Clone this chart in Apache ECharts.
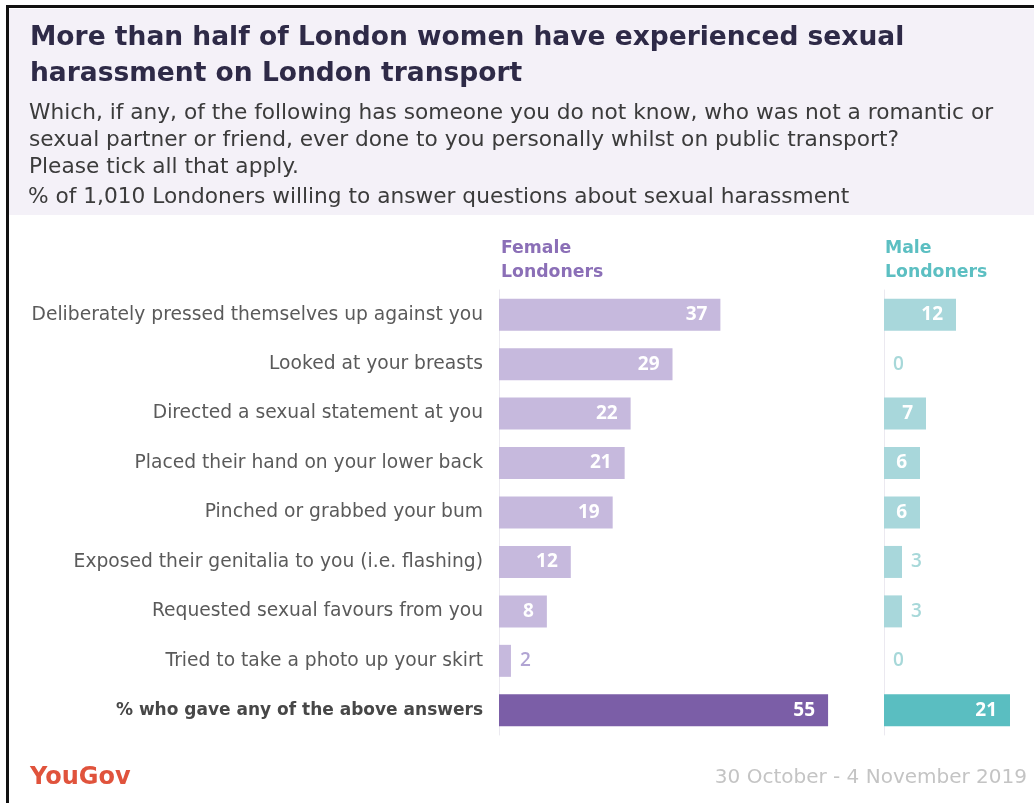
<!DOCTYPE html>
<html>
<head>
<meta charset="utf-8">
<script src="https://cdn.jsdelivr.net/npm/echarts@6/dist/echarts.min.js"></script>
<style>
  html, body { margin: 0; padding: 0; background: #ffffff; }
  #chart { width: 1034px; height: 803px; }
</style>
</head>
<body>
<div id="chart"></div>
<script>
// Survey answers (rows, top to bottom)
const categories = [
  'Deliberately pressed themselves up against you',
  'Looked at your breasts',
  'Directed a sexual statement at you',
  'Placed their hand on your lower back',
  'Pinched or grabbed your bum',
  'Exposed their genitalia to you (i.e. flashing)',
  'Requested sexual favours from you',
  'Tried to take a photo up your skirt',
  '% who gave any of the above answers'
];
// % of female / male Londoners
const femaleValues = [37, 29, 22, 21, 19, 12, 8, 2, 55];
const maleValues = [12, 0, 7, 6, 6, 3, 3, 0, 21];

const FONT = '"DejaVu Sans", "Noto Sans", sans-serif';
const NUM_FONT = '"Open Sans", "Noto Sans", sans-serif';
const totalIndex = categories.length - 1;

// Build bar items: small values carry their label outside the bar
function buildItems(values, light, dark, outsideColor) {
  return values.map((v, i) => {
    const isTotal = i === totalIndex;
    const inside = v >= 5;
    return {
      value: v,
      itemStyle: { color: isTotal ? dark : light },
      label: inside
        ? { position: 'insideRight', distance: 13, color: '#ffffff', fontWeight: 'bold' }
        : { position: 'right', distance: 9, color: outsideColor, fontWeight: 600 }
    };
  });
}

const femaleItems = buildItems(femaleValues, '#c6b9dd', '#7b5ea7', '#b1a4d3');
const maleItems = buildItems(maleValues, '#a8d7db', '#5abec1', '#a7d8d9');

const gridTop = 290;
const gridHeight = 445;

function yAxisFor(gridIndex, showLabels) {
  return {
    type: 'category',
    gridIndex: gridIndex,
    data: categories,
    inverse: true,
    axisTick: { show: false },
    axisLine: { show: true, lineStyle: { color: '#ebe9f0', width: 1 } },
    axisLabel: {
      show: showLabels,
      margin: 16,
      fontFamily: FONT,
      fontSize: 18.7,
      color: '#5a5a5a',
      formatter: function (val, idx) {
        return idx === totalIndex ? '{b|' + val + '}' : val;
      },
      rich: {
        b: { fontFamily: FONT, fontSize: 17, fontWeight: 'bold', color: '#474747' }
      }
    }
  };
}

function xAxisFor(gridIndex, max) {
  return {
    type: 'value',
    gridIndex: gridIndex,
    min: 0,
    max: max,
    show: false,
    splitLine: { show: false }
  };
}

const chart = echarts.init(document.getElementById('chart'), null, { renderer: 'canvas' });

const option = {
  backgroundColor: '#ffffff',
  animation: false,
  textStyle: { fontFamily: FONT },
  graphic: [
    // header panel
    { type: 'rect', shape: { x: 9, y: 9, width: 1025, height: 206 }, style: { fill: '#f4f1f8' }, z: -10 },
    // frame edges
    { type: 'rect', shape: { x: 6, y: 5, width: 1028, height: 3 }, style: { fill: '#111111' }, z: -5 },
    { type: 'rect', shape: { x: 6, y: 5, width: 3, height: 798 }, style: { fill: '#111111' }, z: -5 }
  ],
  title: [
    {
      text: 'More than half of London women have experienced sexual\nharassment on London transport',
      left: 25, top: 15,
      textStyle: { fontFamily: FONT, fontSize: 26.5, fontWeight: 'bold', color: '#2e2a47', lineHeight: 36 }
    },
    {
      text: 'Which, if any, of the following has someone you do not know, who was not a romantic or\nsexual partner or friend, ever done to you personally whilst on public transport?\nPlease tick all that apply.',
      left: 24, top: 95,
      textStyle: { fontFamily: FONT, fontSize: 21.7, fontWeight: 'normal', color: '#3b3b3b', lineHeight: 27 }
    },
    {
      text: '% of 1,010 Londoners willing to answer questions about sexual harassment',
      left: 23, top: 181,
      textStyle: { fontFamily: FONT, fontSize: 21.7, fontWeight: 'normal', color: '#3b3b3b' }
    },
    {
      text: 'Female\nLondoners',
      left: 496, top: 232,
      textStyle: { fontFamily: FONT, fontSize: 17.3, fontWeight: 'bold', color: '#8b6fb7', lineHeight: 24 }
    },
    {
      text: 'Male\nLondoners',
      left: 880, top: 232,
      textStyle: { fontFamily: FONT, fontSize: 17.3, fontWeight: 'bold', color: '#5cbfc2', lineHeight: 24 }
    },
    {
      text: 'YouGov',
      left: 25, top: 761,
      textStyle: { fontFamily: FONT, fontSize: 24, fontWeight: 'bold', color: '#e0533c' }
    },
    {
      text: '30 October - 4 November 2019',
      right: 2, top: 763,
      textStyle: { fontFamily: FONT, fontSize: 20, fontWeight: 'normal', color: '#c4c4c4' }
    }
  ],
  grid: [
    { left: 499, top: gridTop, width: 359, height: gridHeight },
    { left: 884, top: gridTop, width: 150, height: gridHeight }
  ],
  xAxis: [xAxisFor(0, 60), xAxisFor(1, 25)],
  yAxis: [yAxisFor(0, true), yAxisFor(1, false)],
  series: [
    {
      name: 'Female Londoners',
      type: 'bar',
      xAxisIndex: 0, yAxisIndex: 0,
      barWidth: 32,
      data: femaleItems,
      label: { show: true, fontFamily: NUM_FONT, fontSize: 19 }
    },
    {
      name: 'Male Londoners',
      type: 'bar',
      xAxisIndex: 1, yAxisIndex: 1,
      barWidth: 32,
      data: maleItems,
      label: { show: true, fontFamily: NUM_FONT, fontSize: 19 }
    }
  ]
};

chart.setOption(option);
</script>
</body>
</html>
